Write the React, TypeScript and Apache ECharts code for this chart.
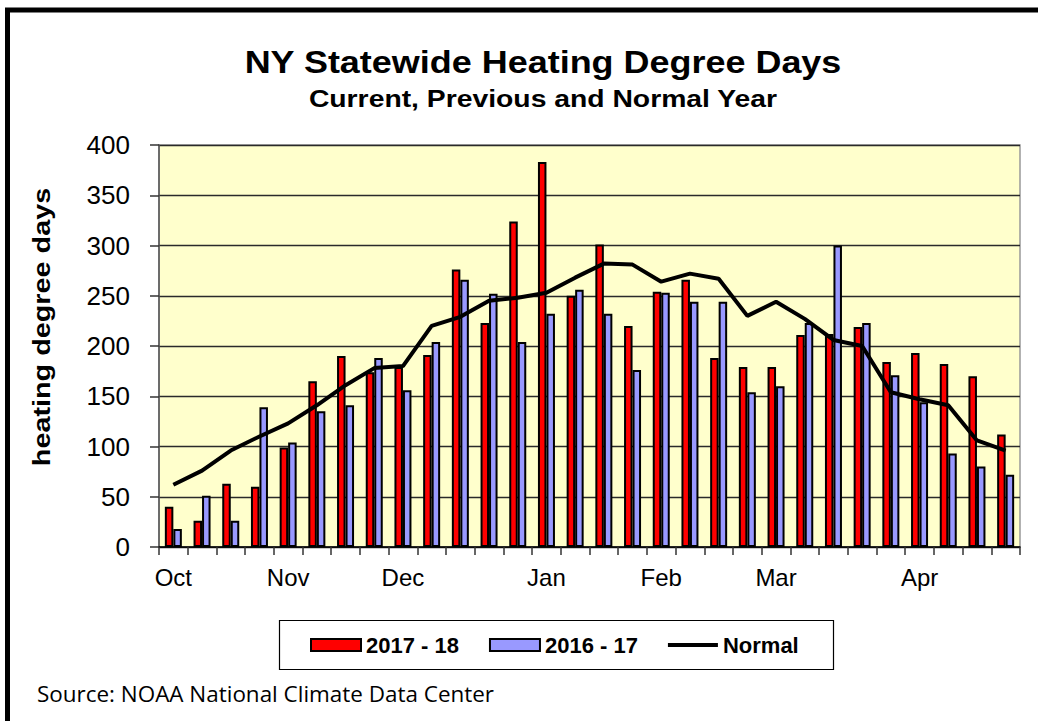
import { useEffect, useRef } from "react";
import * as echarts from "echarts";

const categories = ["Oct", "", "", "", "Nov", "", "", "", "Dec", "", "", "", "", "Jan", "", "", "", "Feb", "", "", "", "Mar", "", "", "", "", "Apr", "", "", ""];
const current2017 = [40, 26, 63, 60, 99, 165, 190, 174, 179, 191, 276, 223, 324, 383, 250, 301, 220, 254, 266, 188, 179, 179, 211, 212, 219, 184, 193, 182, 170, 112];
const previous2016 = [18, 51, 26, 139, 104, 135, 141, 188, 156, 204, 266, 252, 204, 232, 256, 232, 176, 253, 244, 244, 154, 160, 223, 300, 223, 171, 144, 93, 80, 72];
const normalHdd = [62, 76, 96, 110, 123, 141, 161, 178, 180, 220, 229, 245, 248, 253, 268, 282, 281, 264, 272, 267, 230, 244, 227, 206, 200, 154, 147, 141, 106, 96];
const yTicks = { min: 0, max: 400, interval: 50 };

const FONT = "'Liberation Sans', Arial, sans-serif";

export default function App() {
  const ref = useRef<HTMLDivElement>(null);
  useEffect(() => {
    if (!ref.current) return;
    const chart = echarts.init(ref.current, undefined, { renderer: "svg" });
    chart.setOption({
      animation: false,
      backgroundColor: "#ffffff",
      grid: {
        left: 159,
        right: 18,
        top: 145,
        bottom: 174,
        show: true,
        backgroundColor: "#FFFFCC",
        borderColor: "#999999",
        borderWidth: 1.5,
        outerBoundsMode: "none",
      },
      legend: {
        left: 310,
        top: 634,
        padding: 0,
        itemWidth: 50,
        itemHeight: 12,
        itemGap: 30,
        textStyle: { fontFamily: FONT, fontSize: 22, fontWeight: "bold", color: "#000", lineHeight: 22 },
        data: [
          { name: "2017 - 18", icon: "rect" },
          { name: "2016 - 17", icon: "rect" },
          { name: "Normal", icon: "path://M0,0 L50,0 L50,4 L0,4 Z", itemStyle: { color: "#000", borderWidth: 0 } },
        ],
      },
      xAxis: {
        type: "category",
        data: categories,
        boundaryGap: true,
        axisLine: { show: true, lineStyle: { color: "#000", width: 1.5 } },
        axisTick: { show: true, interval: 0, length: 8, lineStyle: { color: "#333", width: 1.5 } },
        axisLabel: { interval: 0, margin: 18, fontFamily: FONT, fontSize: 24, color: "#000" },
        splitLine: { show: false },
      },
      yAxis: {
        type: "value",
        min: yTicks.min,
        max: yTicks.max,
        interval: yTicks.interval,
        axisLine: { show: true, lineStyle: { color: "#555", width: 1.5 } },
        axisTick: { show: true, length: 9, lineStyle: { color: "#333", width: 1.5 } },
        axisLabel: { margin: 29, fontFamily: FONT, fontSize: 26, color: "#000" },
        splitLine: { show: true, lineStyle: { color: "#2a2a2a", width: 1.3 } },
      },
      series: [
        {
          name: "2017 - 18",
          type: "bar",
          data: current2017,
          barWidth: 8.5,
          barGap: "0%",
          itemStyle: { color: "#FF0000", borderColor: "#000", borderWidth: 2 },
        },
        {
          name: "2016 - 17",
          type: "bar",
          data: previous2016,
          barWidth: 8.5,
          barGap: "0%",
          itemStyle: { color: "#9999FF", borderColor: "#000", borderWidth: 2 },
        },
        {
          name: "Normal",
          type: "line",
          data: normalHdd,
          symbol: "none",
          lineStyle: { color: "#000", width: 4 },
          itemStyle: { color: "#000" },
          z: 5,
        },
      ],
      graphic: [
        {
          type: "rect",
          shape: { x: 7.5, y: 10, width: 1200, height: 900 },
          style: { fill: "none", stroke: "#000", lineWidth: 5 },
          silent: true,
        },
        {
          type: "text",
          x: 543,
          y: 62,
          scaleX: 1.16,
          style: {
            text: "NY Statewide Heating Degree Days",
            font: `bold 31px ${FONT}`,
            fill: "#000",
            align: "center",
            verticalAlign: "middle",
          },
        },
        {
          type: "text",
          x: 543,
          y: 99,
          scaleX: 1.18,
          style: {
            text: "Current, Previous and Normal Year",
            font: `bold 24px ${FONT}`,
            fill: "#000",
            align: "center",
            verticalAlign: "middle",
          },
        },
        {
          type: "text",
          x: 42,
          y: 327,
          rotation: Math.PI / 2,
          scaleX: 1.2,
          style: {
            text: "heating degree days",
            font: `bold 24px ${FONT}`,
            fill: "#000",
            align: "center",
            verticalAlign: "middle",
          },
        },
        {
          type: "rect",
          shape: { x: 279.5, y: 620.5, width: 554, height: 49 },
          style: { fill: "#fff", stroke: "#000", lineWidth: 1.2 },
          z: -1,
          silent: true,
        },
        {
          type: "text",
          x: 37,
          y: 694,
          scaleX: 1.02,
          style: {
            text: "Source: NOAA National Climate Data Center",
            font: `22px 'Open Sans', 'Noto Sans', sans-serif`,
            fill: "#000",
            align: "left",
            verticalAlign: "middle",
          },
        },
      ],
    });
    return () => chart.dispose();
  }, []);
  return <div ref={ref} style={{ position: "absolute", left: 0, top: 0, width: 1038, height: 721 }} />;
}
